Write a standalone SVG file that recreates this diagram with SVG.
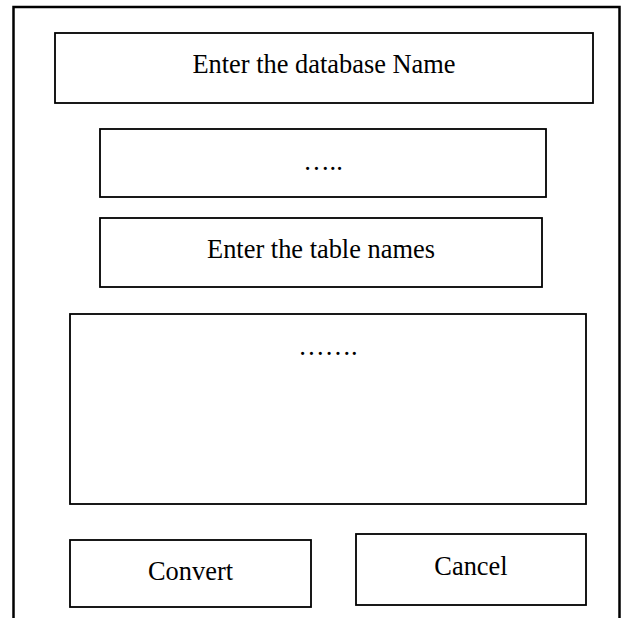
<svg xmlns="http://www.w3.org/2000/svg" width="622" height="618" viewBox="0 0 622 618">
  <style>
    .frame { fill: none; stroke: #000; stroke-width: 2.5; }
    .box { fill: #fff; stroke: #000; stroke-width: 1.8; }
    .label { font-family: "Liberation Serif", "Times New Roman", serif; font-size: 26.4px; fill: #000; text-anchor: middle; }
  </style>
  <rect width="622" height="618" fill="#fff"/>
  <!-- window frame, open at the bottom -->
  <path class="frame" d="M13.5,620 L13.5,7 L619.5,7 L619.5,620"/>

  <g id="db-name-label">
    <rect class="box" x="55" y="33" width="538" height="70"/>
    <text class="label" x="324" y="73">Enter the database Name</text>
  </g>
  <g id="db-name-input">
    <rect class="box" x="100" y="129" width="446" height="68"/>
    <text class="label" x="323" y="170">…..</text>
  </g>
  <g id="table-names-label">
    <rect class="box" x="100" y="218" width="442" height="69"/>
    <text class="label" x="321" y="258">Enter the table names</text>
  </g>
  <g id="table-names-input">
    <rect class="box" x="70" y="314" width="516" height="190"/>
    <text class="label" x="328" y="355">…….</text>
  </g>
  <g id="convert-button">
    <rect class="box" x="70" y="540" width="241" height="67"/>
    <text class="label" x="190.5" y="580">Convert</text>
  </g>
  <g id="cancel-button">
    <rect class="box" x="356" y="534" width="230" height="71"/>
    <text class="label" x="471" y="575">Cancel</text>
  </g>
  <g id="connectors"/>
</svg>
